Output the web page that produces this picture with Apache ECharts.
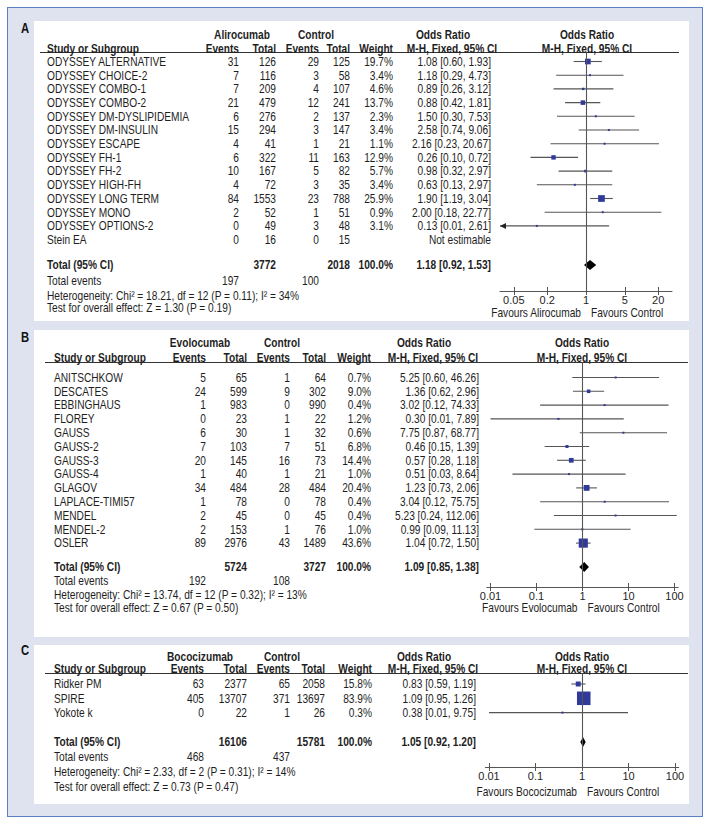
<!DOCTYPE html>
<html><head><meta charset="utf-8">
<script src="https://cdn.jsdelivr.net/npm/echarts@6.0.0/dist/echarts.min.js"></script>
<style>
html,body{margin:0;padding:0;background:#fff;}
#wrap{position:relative;width:710px;height:825px;overflow:hidden;}
.frame{position:absolute;left:7px;top:7px;width:694px;height:808px;border:1px solid #5b7fc2;background:#dfe3f0;}
.panel{position:absolute;left:34px;width:655px;background:#fff;}
#chart{position:absolute;left:0;top:0;width:710px;height:825px;}
</style></head>
<body><div id="wrap"><div class="frame"></div>
<div class="panel" style="top:21px;height:300px"></div>
<div class="panel" style="top:330px;height:307px"></div>
<div class="panel" style="top:645px;height:159px"></div>
<div id="chart"></div></div>
<script>
// ---------- Panel A: Alirocumab ----------
const drugA = 'Alirocumab';
const studiesA = ['ODYSSEY ALTERNATIVE','ODYSSEY CHOICE-2','ODYSSEY COMBO-1','ODYSSEY COMBO-2','ODYSSEY DM-DYSLIPIDEMIA','ODYSSEY DM-INSULIN','ODYSSEY ESCAPE','ODYSSEY FH-1','ODYSSEY FH-2','ODYSSEY HIGH-FH','ODYSSEY LONG TERM','ODYSSEY MONO','ODYSSEY OPTIONS-2','Stein EA'];
const eventsDrugA = [31,7,7,21,6,15,4,6,10,4,84,2,0,0];
const totalDrugA  = [126,116,209,479,276,294,41,322,167,72,1553,52,49,16];
const eventsCtrlA = [29,3,4,12,2,3,1,11,5,3,23,1,3,0];
const totalCtrlA  = [125,58,107,241,137,147,21,163,82,35,788,51,48,15];
const weightA = [19.7,3.4,4.6,13.7,2.3,3.4,1.1,12.9,5.7,3.4,25.9,0.9,3.1,null];
const orA   = [1.08,1.18,0.89,0.88,1.50,2.58,2.16,0.26,0.98,0.63,1.90,2.00,0.13,null];
const lowA  = [0.60,0.29,0.26,0.42,0.30,0.74,0.23,0.10,0.32,0.13,1.19,0.18,0.01,null];
const highA = [1.93,4.73,3.12,1.81,7.53,9.06,20.67,0.72,2.97,2.97,3.04,22.77,2.61,null];
const totalsA = [3772, 2018];
const totalEventsA = [197, 100];
const pooledA = [1.18, 0.92, 1.53];
const hetA = 'Heterogeneity: Chi\u00b2 = 18.21, df = 12 (P = 0.11); I\u00b2 = 34%';
const testA = 'Test for overall effect: Z = 1.30 (P = 0.19)';
const ticksA = [0.05, 0.2, 1, 5, 20];

// ---------- Panel B: Evolocumab ----------
const drugB = 'Evolocumab';
const studiesB = ['ANITSCHKOW','DESCATES','EBBINGHAUS','FLOREY','GAUSS','GAUSS-2','GAUSS-3','GAUSS-4','GLAGOV','LAPLACE-TIMI57','MENDEL','MENDEL-2','OSLER'];
const eventsDrugB = [5,24,1,0,6,7,20,1,34,1,2,2,89];
const totalDrugB  = [65,599,983,23,30,103,145,40,484,78,45,153,2976];
const eventsCtrlB = [1,9,0,1,1,7,16,1,28,0,0,1,43];
const totalCtrlB  = [64,302,990,22,32,51,73,21,484,78,45,76,1489];
const weightB = [0.7,9.0,0.4,1.2,0.6,6.8,14.4,1.0,20.4,0.4,0.4,1.0,43.6];
const orB   = [5.25,1.36,3.02,0.30,7.75,0.46,0.57,0.51,1.23,3.04,5.23,0.99,1.04];
const lowB  = [0.60,0.62,0.12,0.01,0.87,0.15,0.28,0.03,0.73,0.12,0.24,0.09,0.72];
const highB = [46.26,2.96,74.33,7.89,68.77,1.39,1.18,8.64,2.06,75.75,112.06,11.13,1.50];
const totalsB = [5724, 3727];
const totalEventsB = [192, 108];
const pooledB = [1.09, 0.85, 1.38];
const hetB = 'Heterogeneity: Chi\u00b2 = 13.74, df = 12 (P = 0.32); I\u00b2 = 13%';
const testB = 'Test for overall effect: Z = 0.67 (P = 0.50)';
const ticksB = [0.01, 0.1, 1, 10, 100];

// ---------- Panel C: Bococizumab ----------
const drugC = 'Bococizumab';
const studiesC = ['Ridker PM','SPIRE','Yokote k'];
const eventsDrugC = [63,405,0];
const totalDrugC  = [2377,13707,22];
const eventsCtrlC = [65,371,1];
const totalCtrlC  = [2058,13697,26];
const weightC = [15.8,83.9,0.3];
const orC   = [0.83,1.09,0.38];
const lowC  = [0.59,0.95,0.01];
const highC = [1.19,1.26,9.75];
const totalsC = [16106, 15781];
const totalEventsC = [468, 437];
const pooledC = [1.05, 0.92, 1.20];
const hetC = 'Heterogeneity: Chi\u00b2 = 2.33, df = 2 (P = 0.31); I\u00b2 = 14%';
const testC = 'Test for overall effect: Z = 0.73 (P = 0.47)';
const ticksC = [0.01, 0.1, 1, 10, 100];

// ---------- layout (pixels) ----------
const layoutA = {label:'A', labelY:28, panelTop:21, panelBottom:321, headY:35, subY:48.5, lineY:52.5, lineX:[40,679],
  row0:61.5, dy:13.7, totalY:265, eventsY:281, hetY:296, testY:308, axisY:291, favY:313,
  cols:[47,239,276,319,350,393,491], heads:[242,316,443,452,587], center:586, perDec:55.5, half:1.55};
const layoutB = {label:'B', labelY:337, panelTop:330, panelBottom:637, headY:343, subY:358, lineY:362.5, lineX:[45,688],
  row0:377.5, dy:13.8, totalY:567, eventsY:581, hetY:595, testY:608, axisY:587, favY:608,
  cols:[54,206,247,290,326,371,479], heads:[200,282,424,433,582], center:582.5, perDec:46, half:2.08};
const layoutC = {label:'C', labelY:650, panelTop:645, panelBottom:804, headY:657, subY:669, lineY:673.5, lineX:[45,688],
  row0:684, dy:14.3, totalY:742, eventsY:757, hetY:772, testY:787, axisY:767, favY:792,
  cols:[54,204,247,290,325,372,476], heads:[200,282,424,433,582], center:582, perDec:46.5, half:2.08};

// ---------- font detection ----------
function hasFont(f){
  const c = document.createElement('canvas').getContext('2d');
  const s = 'ODYSSEY DM-DYSLIPIDEMIA 0123456789';
  c.font = '12px monospace'; const a = c.measureText(s).width;
  c.font = "12px '" + f + "', monospace"; const b = c.measureText(s).width;
  return Math.abs(a - b) > 0.5;
}
const NARROW = hasFont('Liberation Sans Narrow');
const FF = NARROW ? "'Liberation Sans Narrow', 'Liberation Sans', Arial, sans-serif" : "'Liberation Sans', Arial, sans-serif";
const SX = NARROW ? 1 : 0.82;
const FS = 12.4;
const TXT = '#1e1e1e', LINE = '#555555', SQ = '#2f3a9a';

const lg = v => Math.log10(v);
const f2 = v => v.toFixed(2);
const ciText = (o, l, h) => f2(o) + ' [' + f2(l) + ', ' + f2(h) + ']';

const grids = [], xAxes = [], yAxes = [], series = [], graphics = [];

function buildPanel(d, L) {
  const toRow = y => (y - L.row0) / L.dy;
  const cells = [];
  const addY = (x, y, text, align, bold) => cells.push({x, row: toRow(y), text: String(text), align, bold: !!bold});
  const addR = (x, row, text, align, bold) => cells.push({x, row, text: String(text), align, bold: !!bold});
  const c = L.cols, h = L.heads;
  addY(h[0], L.headY, d.drug, 'center', true);
  addY(h[1], L.headY, 'Control', 'center', true);
  addY(h[2], L.headY, 'Odds Ratio', 'center', true);
  addY(h[4], L.headY, 'Odds Ratio', 'center', true);
  addY(c[0], L.subY, 'Study or Subgroup', 'left', true);
  addY(c[1], L.subY, 'Events', 'right', true);
  addY(c[2], L.subY, 'Total', 'right', true);
  addY(c[3], L.subY, 'Events', 'right', true);
  addY(c[4], L.subY, 'Total', 'right', true);
  addY(c[5], L.subY, 'Weight', 'right', true);
  addY(h[3], L.subY, 'M-H, Fixed, 95% CI', 'center', true);
  addY(h[4], L.subY, 'M-H, Fixed, 95% CI', 'center', true);
  d.studies.forEach((s, i) => {
    addR(c[0], i, s, 'left');
    addR(c[1], i, d.ev1[i], 'right');
    addR(c[2], i, d.n1[i], 'right');
    addR(c[3], i, d.ev2[i], 'right');
    addR(c[4], i, d.n2[i], 'right');
    addR(c[5], i, d.w[i] == null ? '' : d.w[i].toFixed(1) + '%', 'right');
    addR(c[6], i, d.or[i] == null ? 'Not estimable' : ciText(d.or[i], d.lo[i], d.hi[i]), 'right');
  });
  addY(c[0], L.totalY, 'Total (95% CI)', 'left', true);
  addY(c[2], L.totalY, d.totals[0], 'right', true);
  addY(c[4], L.totalY, d.totals[1], 'right', true);
  addY(c[5], L.totalY, '100.0%', 'right', true);
  addY(c[6], L.totalY, ciText(d.pooled[0], d.pooled[1], d.pooled[2]), 'right', true);
  addY(c[0], L.eventsY, 'Total events', 'left');
  addY(c[1], L.eventsY, d.events[0], 'right');
  addY(c[3], L.eventsY, d.events[1], 'right');
  addY(c[0], L.hetY, d.het, 'left');
  addY(c[0], L.testY, d.test, 'left');
  addY(L.center - 5, L.favY, 'Favours ' + d.drug, 'right');
  addY(L.center + 5, L.favY, 'Favours Control', 'left');

  // table grid
  const gT = grids.length;
  grids.push({left: 0, width: 710, top: L.panelTop, height: L.panelBottom - L.panelTop, containLabel: false, outerBoundsMode: 'none'});
  const xT = xAxes.length;
  xAxes.push({type: 'value', gridIndex: gT, min: 0, max: 710, show: false});
  const yT = yAxes.length;
  yAxes.push({type: 'value', gridIndex: gT, inverse: true, min: toRow(L.panelTop), max: toRow(L.panelBottom), show: false});
  series.push({
    type: 'custom', xAxisIndex: xT, yAxisIndex: yT, silent: true,
    data: cells.map(o => [o.x, o.row]),
    encode: {x: 0, y: 1},
    renderItem: (params, api) => {
      const o = cells[params.dataIndex];
      const p = api.coord([api.value(0), api.value(1)]);
      return {type: 'text', x: p[0], y: p[1], scaleX: SX,
        style: {text: o.text, x: 0, y: 0, fill: TXT, align: o.align, verticalAlign: 'middle',
          font: (o.bold ? 'bold ' : '') + FS + 'px ' + FF}};
    }
  });

  // plot grid
  const gP = grids.length;
  const left = L.center - L.half * L.perDec;
  grids.push({left: left, width: 2 * L.half * L.perDec, top: L.lineY, height: L.axisY - L.lineY, containLabel: false, outerBoundsMode: 'none'});
  const tv = d.ticks.map(lg);
  const labelFor = v => { const t = d.ticks.find(t => Math.abs(lg(t) - v) < 1e-6); return t == null ? '' : String(t); };
  const xP = xAxes.length;
  xAxes.push({type: 'value', gridIndex: gP, min: -L.half, max: L.half, position: 'bottom',
    axisLine: {show: true, onZero: false, lineStyle: {color: LINE, width: 1}},
    axisTick: {show: true, customValues: tv, length: 4, inside: false, lineStyle: {color: LINE, width: 1}},
    axisLabel: {show: true, customValues: tv, margin: 3, formatter: labelFor, color: TXT, fontSize: NARROW ? 12.4 : 11, fontFamily: FF},
    splitLine: {show: false}});
  xAxes.push({type: 'value', gridIndex: gP, min: -L.half, max: L.half, position: 'bottom',
    axisLine: {show: false, onZero: false},
    axisTick: {show: true, customValues: tv, length: 4, inside: true, lineStyle: {color: LINE, width: 1}},
    axisLabel: {show: false}, splitLine: {show: false}});
  const yP = yAxes.length;
  yAxes.push({type: 'value', gridIndex: gP, inverse: true, min: toRow(L.lineY), max: toRow(L.axisY), show: false});

  const pts = [];
  d.or.forEach((o, i) => { if (o != null) pts.push([lg(o), i, lg(d.lo[i]), lg(d.hi[i]), d.w[i]]); });
  series.push({
    type: 'custom', xAxisIndex: xP, yAxisIndex: yP, silent: true, clip: false,
    dimensions: ['or', 'row', 'lo', 'hi', 'w'],
    encode: {x: ['or', 'lo', 'hi'], y: 'row'},
    data: pts,
    renderItem: (params, api) => {
      const xo = api.value(0), row = api.value(1), xl = api.value(2), xh = api.value(3), w = api.value(4);
      const lo = Math.max(xl, -L.half), hi = Math.min(xh, L.half);
      const pL = api.coord([lo, row]), pH = api.coord([hi, row]), pO = api.coord([xo, row]);
      const s = Math.max(2, 0.95 * Math.pow(w, 0.6));
      const ch = [
        {type: 'line', shape: {x1: pL[0], y1: pL[1], x2: pH[0], y2: pH[1]}, style: {stroke: LINE, lineWidth: 1.1}},
        {type: 'rect', shape: {x: pO[0] - s / 2, y: pO[1] - s / 2, width: s, height: s}, style: {fill: SQ}}
      ];
      if (xl < -L.half) ch.push({type: 'polygon', shape: {points: [[pL[0], pL[1]], [pL[0] + 6, pL[1] - 3], [pL[0] + 6, pL[1] + 3]]}, style: {fill: '#222'}});
      if (xh > L.half) ch.push({type: 'polygon', shape: {points: [[pH[0], pH[1]], [pH[0] - 6, pH[1] - 3], [pH[0] - 6, pH[1] + 3]]}, style: {fill: '#222'}});
      return {type: 'group', children: ch};
    },
    markLine: {silent: true, symbol: ['none', 'none'], label: {show: false}, animation: false,
      lineStyle: {color: LINE, width: 1.1, type: 'solid'}, data: [{xAxis: 0}]}
  });
  series.push({
    type: 'custom', xAxisIndex: xP, yAxisIndex: yP, silent: true, clip: false,
    dimensions: ['or', 'row', 'lo', 'hi'],
    encode: {x: ['or', 'lo', 'hi'], y: 'row'},
    data: [[lg(d.pooled[0]), toRow(L.totalY), lg(d.pooled[1]), lg(d.pooled[2])]],
    renderItem: (params, api) => {
      const row = api.value(1);
      const pO = api.coord([api.value(0), row]), pL = api.coord([api.value(2), row]), pH = api.coord([api.value(3), row]);
      const hh = 5;
      return {type: 'polygon', shape: {points: [[pL[0], pL[1]], [pO[0], pO[1] - hh], [pH[0], pH[1]], [pO[0], pO[1] + hh]]}, style: {fill: '#000'}};
    }
  });

  graphics.push({type: 'line', shape: {x1: L.lineX[0], y1: L.lineY, x2: L.lineX[1], y2: L.lineY}, style: {stroke: '#333', lineWidth: 1}, silent: true});
  graphics.push({type: 'text', x: 25, y: L.labelY, scaleX: 0.75, silent: true,
    style: {text: L.label, x: 0, y: 0, align: 'center', verticalAlign: 'middle', fill: '#111', font: 'bold 15px ' + FF}});
}

buildPanel({drug: drugA, studies: studiesA, ev1: eventsDrugA, n1: totalDrugA, ev2: eventsCtrlA, n2: totalCtrlA, w: weightA,
  or: orA, lo: lowA, hi: highA, totals: totalsA, events: totalEventsA, pooled: pooledA, het: hetA, test: testA, ticks: ticksA}, layoutA);
buildPanel({drug: drugB, studies: studiesB, ev1: eventsDrugB, n1: totalDrugB, ev2: eventsCtrlB, n2: totalCtrlB, w: weightB,
  or: orB, lo: lowB, hi: highB, totals: totalsB, events: totalEventsB, pooled: pooledB, het: hetB, test: testB, ticks: ticksB}, layoutB);
buildPanel({drug: drugC, studies: studiesC, ev1: eventsDrugC, n1: totalDrugC, ev2: eventsCtrlC, n2: totalCtrlC, w: weightC,
  or: orC, lo: lowC, hi: highC, totals: totalsC, events: totalEventsC, pooled: pooledC, het: hetC, test: testC, ticks: ticksC}, layoutC);

const chart = echarts.init(document.getElementById('chart'), null, {renderer: 'svg', width: 710, height: 825});
chart.setOption({
  animation: false,
  backgroundColor: 'transparent',
  grid: grids, xAxis: xAxes, yAxis: yAxes, series: series,
  graphic: {elements: graphics}
});
</script></body></html>
